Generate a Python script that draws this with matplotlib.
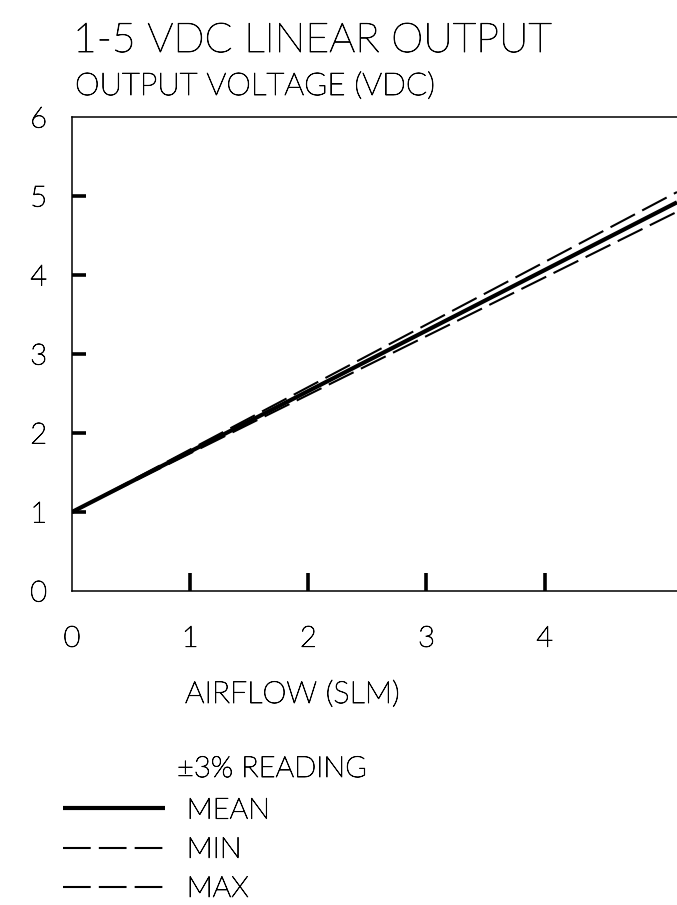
import matplotlib
matplotlib.use("Agg")
import matplotlib.pyplot as plt
import matplotlib.patheffects as pe

# ---- data ----
airflow = [0.0, 5.12]
mean_v = [1.0, 4.92]
max_v = [1.0, 5.05]
min_v = [1.0, 4.80]
x_tick_labels = ["0", "1", "2", "3", "4"]
y_tick_labels = ["0", "1", "2", "3", "4", "5", "6"]
title1 = "1-5 VDC LINEAR OUTPUT"
title2 = "OUTPUT VOLTAGE (VDC)"
xlabel = "AIRFLOW (SLM)"
legend_title = "\u00b13% READING"
series_labels = ["MEAN", "MIN", "MAX"]

plt.rcParams['font.family'] = ['Lato', 'DejaVu Sans']
plt.rcParams['font.weight'] = 'light'

ink = [pe.withStroke(linewidth=0.6, foreground='black')]

W, H = 677, 905
fig = plt.figure(figsize=(W / 100, H / 100), dpi=100)
ax = fig.add_axes([72 / W, (H - 591) / H, 1 - 72 / W, (591 - 117) / H])
ax.set_xlim(0, 5.12)
ax.set_ylim(0, 6)

dash = (0, (13.3, 3.9))
ax.plot(airflow, mean_v, color='black', lw=3.0, solid_capstyle='butt', label=series_labels[0])
ax.plot(airflow, min_v, color='black', lw=1.5, linestyle=dash, dash_capstyle='butt', label=series_labels[1])
ax.plot(airflow, max_v, color='black', lw=1.5, linestyle=dash, dash_capstyle='butt', label=series_labels[2])

for s in ['top', 'left', 'bottom']:
    ax.spines[s].set_linewidth(1.1)
ax.spines['right'].set_visible(False)

ax.xaxis.remove_overlapping_locs = False
ax.yaxis.remove_overlapping_locs = False
ax.set_xticks(range(len(x_tick_labels)))
ax.set_xticklabels(x_tick_labels)
ax.set_yticks(range(len(y_tick_labels)))
ax.set_yticklabels(y_tick_labels)
ax.set_xticks(range(1, len(x_tick_labels)), minor=True)
ax.set_yticks(range(1, len(y_tick_labels) - 1), minor=True)
ax.tick_params(which='major', length=0, labelsize=21, labelcolor='black')
ax.tick_params(axis='x', which='major', pad=25)
ax.tick_params(axis='y', which='major', pad=24)
ax.tick_params(which='minor', direction='in', width=2.6)
ax.tick_params(axis='x', which='minor', length=13)
ax.tick_params(axis='y', which='minor', length=10)
for t in ax.get_yticklabels():
    t.set_horizontalalignment('center')
for t in ax.get_xticklabels() + ax.get_yticklabels():
    t.set_path_effects(ink)

fig.text(73 / W, 1 - 52 / H, title1, fontsize=29.5, va='baseline', ha='left', color='black', path_effects=ink)
fig.text(75 / W, 1 - 95 / H, title2, fontsize=22.5, va='baseline', ha='left', color='black', path_effects=ink)
fig.text(185 / W, 1 - 703 / H, xlabel, fontsize=22, va='baseline', ha='left', color='black', path_effects=ink)
fig.text(177 / W, 1 - 777 / H, legend_title, fontsize=21, va='baseline', ha='left', color='black', path_effects=ink)

leg = fig.legend(loc='upper left', bbox_to_anchor=(51 / W, 1 - 786 / H), frameon=False,
                 fontsize=21, handlelength=3.5, handletextpad=0.75, labelspacing=0.45,
                 borderaxespad=0)
for t in leg.get_texts():
    t.set_path_effects(ink)

fig.savefig('out.png', dpi=100)
